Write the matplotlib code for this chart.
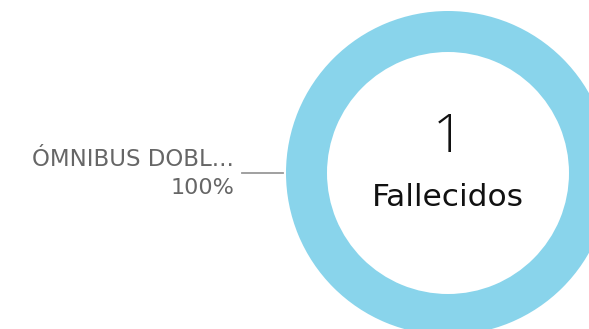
import matplotlib
matplotlib.use("Agg")
import matplotlib.pyplot as plt

categories = ["ÓMNIBUS DOBL..."]
values = [1]
percent_labels = ["100%"]
total_label = "Fallecidos"
ring_color = "#89d4eb"

W, H = 589, 329
fig = plt.figure(figsize=(W / 100, H / 100), dpi=100)
ax = fig.add_axes([0, 0, 1, 1])
ax.set_xlim(0, W)
ax.set_ylim(H, 0)
ax.set_aspect("equal")
ax.axis("off")

cx, cy, r_out, r_in = 448, 173, 162, 121
ax.pie(values, colors=[ring_color], center=(cx, cy), radius=r_out,
       startangle=90, counterclock=False,
       wedgeprops=dict(width=r_out - r_in, edgecolor="none"))
ax.set_xlim(0, W)
ax.set_ylim(H, 0)

big_font = ["Open Sans", "DejaVu Sans"]
font = ["DejaVu Sans"]
ax.text(cx, 138, str(sum(values)), ha="center", va="center", fontsize=39,
        color="#111111", family=big_font, fontweight="light")
ax.text(cx, 198, total_label, ha="center", va="center", fontsize=22.5,
        color="#111111", family=font)

ax.text(234, 159, categories[0], ha="right", va="center", fontsize=16.5,
        color="#666666", family=font)
ax.text(234, 188, percent_labels[0], ha="right", va="center", fontsize=16,
        color="#666666", family=font)
ax.plot([242, 283], [172.5, 172.5], color="#999999", lw=1.3)

fig.savefig("out.png", dpi=100)
